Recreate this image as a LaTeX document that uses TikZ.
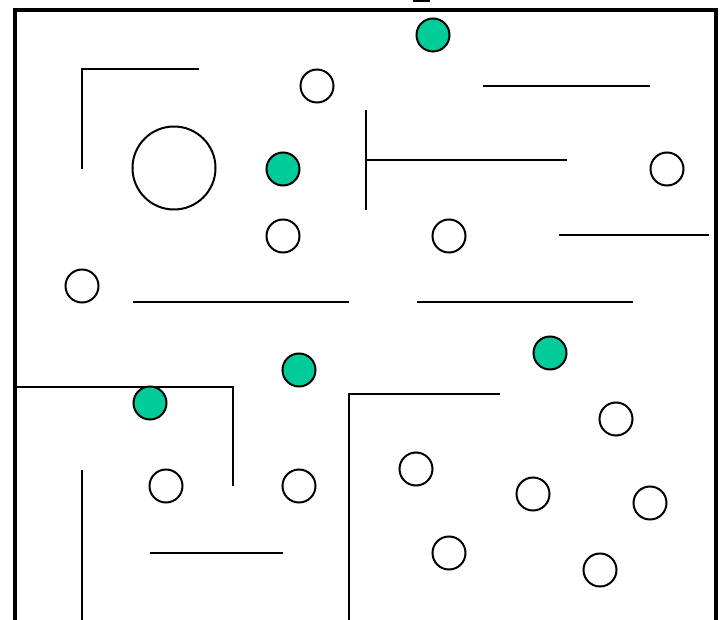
\documentclass[tikz,border=0pt]{standalone}
\usepackage{xcolor}
\usepackage{tikz}
\definecolor{GoalGreen}{HTML}{00CC99}

\begin{document}
\begin{tikzpicture}[
        x=1pt, y=-1pt,
        frame/.style={draw=black, line width=3.5pt},
        wall/.style={draw=black, line width=2.5pt},
        obstacle/.style={
          circle, draw=black, fill=white,
          line width=2pt, inner sep=0pt,
          minimum size=33pt
        },
        target/.style={obstacle, fill=GoalGreen},
        bigobstacle/.style={obstacle, minimum size=83pt}
      ]
      \useasboundingbox (0,0) rectangle (721,620);
      % outer boundary
      \draw[frame] (15,10) rectangle (716,621.5);
      \draw[wall] (413,0.5) -- (430,0.5);

      % inner walls
      \draw[wall] (82,169) -- (82,69) -- (199,69);
      \draw[wall] (483,86) -- (650,86);
      \draw[wall] (366,110) -- (366,210);
      \draw[wall] (366,160) -- (567,160);
      \draw[wall] (559,235) -- (709,235);
      \draw[wall] (133,302) -- (349,302);
      \draw[wall] (417,302) -- (633,302);
      \draw[wall] (15,387) -- (233,387) -- (233,486);
      \draw[wall] (82,470) -- (82,620);
      \draw[wall] (150,553) -- (283,553);
      \draw[wall] (349,620) -- (349,394) -- (500,394);

      % obstacles
      \node[bigobstacle] (big) at (174,168) {};
      \foreach \name/\x/\y in {o1/317/86, o2/667/169, o3/283/236, o4/449/236,
                               o5/82/286, o6/616/419, o7/416/469, o8/533/494,
                               o9/650/503, o10/449/553, o11/600/570,
                               o12/166/486, o13/299/486}
        \node[obstacle] (\name) at (\x,\y) {};

      % goals
      \foreach \name/\x/\y in {g1/433/35, g2/283/169, g3/299/370,
                               g4/150/403, g5/550/353}
        \node[target] (\name) at (\x,\y) {};
    \end{tikzpicture}
\end{document}
